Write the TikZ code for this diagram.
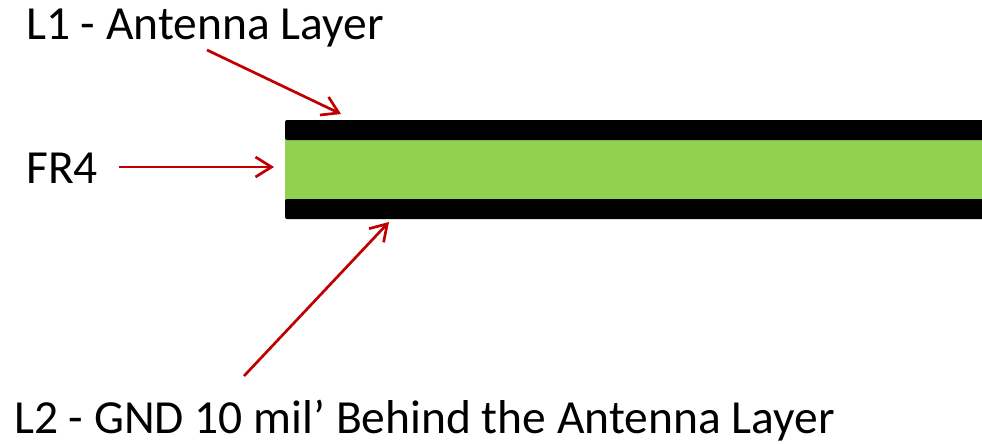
\documentclass[tikz,border=0pt]{standalone}
\usepackage{fontspec}
\setmainfont{Carlito}
\usetikzlibrary{arrows.meta}
\definecolor{arrowred}{HTML}{C00000}
\definecolor{fr4green}{HTML}{92D050}
\tikzset{
  lbl/.style={anchor=base west, inner sep=0pt, font=\fontsize{47.5}{56}\selectfont},
  pointer/.style={draw=arrowred, line width=2.7pt, -{Straight Barb[length=16pt,width=20pt,line width=2.7pt]}},
  copper/.style={fill=black, draw=none},
  core/.style={fill=fr4green, draw=none}
}
\begin{document}
\begin{tikzpicture}[x=1pt,y=-1pt]
\useasboundingbox (0,0) rectangle (982,444);
% layers
\fill[core] (285,139) rectangle (982,200);
\fill[copper] (982,120) [rounded corners=2pt] -- (285,120) -- (285,140) [sharp corners] -- (982,140) -- cycle;
\fill[copper] (982,199) [rounded corners=2pt] -- (285,199) -- (285,219) [sharp corners] -- (982,219) -- cycle;
% labels
\node[lbl] (l1) at (26,40) {L1 - Antenna Layer};
\node[lbl] (fr4) at (26,183) {FR4};
\node[lbl] (l2) at (14,433) {L2 - GND 10 mil’ Behind the Antenna Layer};
% pointer coordinates
\coordinate (l1s) at (207,50);
\coordinate (l1e) at (341,114);
\coordinate (fr4s) at (119,167);
\coordinate (fr4e) at (274,167);
\coordinate (l2s) at (244,376);
\coordinate (l2e) at (389,222);
\draw[pointer] (l1s) -- (l1e);
\draw[pointer] (fr4s) -- (fr4e);
\draw[pointer] (l2s) -- (l2e);
\end{tikzpicture}
\end{document}
